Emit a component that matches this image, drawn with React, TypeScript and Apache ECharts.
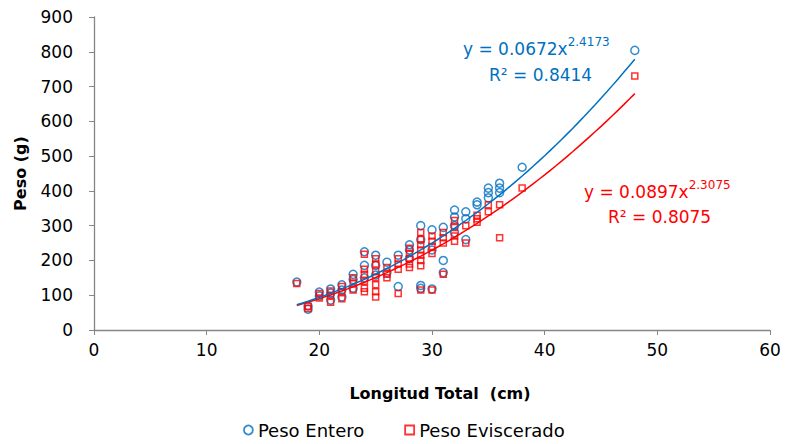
import React, { useEffect, useRef } from "react";
import * as echarts from "echarts";

const xTicks = [0, 10, 20, 30, 40, 50, 60];
const yTicks = [0, 100, 200, 300, 400, 500, 600, 700, 800, 900];

// Peso Entero (longitud cm, peso g)
const pesoEntero: [number, number][] = [
  [18, 138], [19, 69], [19, 60], [20, 109], [20, 98], [21, 118], [21, 106], [21, 86],
  [22, 130], [22, 115], [22, 95], [23, 160], [23, 145], [23, 120],
  [24, 225], [24, 186], [24, 150], [25, 215], [25, 186], [25, 158],
  [26, 195], [26, 165], [27, 215], [27, 125], [28, 245], [28, 230], [28, 205],
  [29, 300], [29, 260], [29, 128], [29, 120], [30, 288], [30, 230], [30, 118],
  [31, 295], [31, 200], [31, 165], [32, 345], [32, 325], [32, 300], [32, 280],
  [33, 340], [33, 320], [33, 260], [34, 368], [34, 360], [35, 408], [35, 395], [35, 380],
  [36, 422], [36, 408], [36, 395], [38, 468], [48, 804],
];

// Peso Eviscerado
const pesoEviscerado: [number, number][] = [
  [18, 134], [19, 62], [19, 68], [20, 105], [20, 92], [21, 112], [21, 100], [21, 80],
  [22, 125], [22, 110], [22, 90], [23, 150], [23, 135], [23, 115],
  [24, 218], [24, 175], [24, 160], [24, 140], [24, 120], [24, 110],
  [25, 205], [25, 190], [25, 170], [25, 150], [25, 130], [25, 110], [25, 95],
  [26, 180], [26, 160], [26, 150], [27, 205], [27, 190], [27, 175], [27, 105],
  [28, 235], [28, 220], [28, 205], [28, 190], [28, 180],
  [29, 280], [29, 260], [29, 245], [29, 230], [29, 215], [29, 200], [29, 185], [29, 115],
  [30, 270], [30, 255], [30, 240], [30, 220], [30, 115],
  [31, 280], [31, 265], [31, 250], [31, 160], [32, 315], [32, 295], [32, 270], [32, 255],
  [33, 300], [33, 250], [34, 330], [34, 320], [34, 310], [35, 360], [35, 340],
  [36, 360], [36, 265], [38, 408], [48, 730],
];

// Trend line coefficients shown on the chart (y = a x^b)
const trendEntero = { a: 0.0672, b: 2.4173, from: 18, to: 48 };
const trendEviscerado = { a: 0.0897, b: 2.3075, from: 18, to: 48 };

function trendPoints(t: { a: number; b: number; from: number; to: number }) {
  const pts: [number, number][] = [];
  for (let x = t.from; x <= t.to + 1e-9; x += 0.5) pts.push([x, t.a * Math.pow(x, t.b)]);
  return pts;
}

const BLUE = "#0070C0";
const RED = "#FF0000";
const FONT = "DejaVu Sans";
const FS = 17;

export default function App() {
  const ref = useRef<HTMLDivElement>(null);
  useEffect(() => {
    if (!ref.current) return;
    const chart = echarts.init(ref.current, undefined, { renderer: "svg" });
    chart.setOption({
      animation: false,
      backgroundColor: "#fff",
      textStyle: { fontFamily: FONT },
      grid: { left: 94, right: 15, top: 17, bottom: 114 },
      xAxis: {
        type: "value",
        min: xTicks[0],
        max: xTicks[xTicks.length - 1],
        interval: 10,
        name: "Longitud Total  (cm)",
        nameLocation: "middle",
        nameGap: 55,
        nameTextStyle: { fontSize: 16, fontWeight: "bold", color: "#000", fontFamily: FONT, padding: [0, 0, 0, 16] },
        axisLine: { lineStyle: { color: "#868686", width: 1.3 } },
        axisTick: { show: true, length: 5, lineStyle: { color: "#868686" } },
        axisLabel: { fontSize: FS, color: "#000", margin: 11, fontFamily: FONT },
        splitLine: { show: false },
      },
      yAxis: {
        type: "value",
        min: yTicks[0],
        max: yTicks[yTicks.length - 1],
        interval: 100,
        name: "Peso (g)",
        nameLocation: "middle",
        nameGap: 66,
        nameTextStyle: { fontSize: 16, fontWeight: "bold", color: "#000", fontFamily: FONT },
        axisLine: { show: true, lineStyle: { color: "#868686", width: 1.3 } },
        axisTick: { show: true, length: 5, lineStyle: { color: "#868686" } },
        axisLabel: { fontSize: FS, color: "#000", margin: 21, fontFamily: FONT },
        splitLine: { show: false },
      },
      legend: {
        bottom: 0,
        left: 238,
        itemGap: 40,
        itemWidth: 9,
        itemHeight: 9,
        textStyle: { fontSize: 18, color: "#000", fontFamily: FONT },
        data: [
          { name: "Peso Entero", icon: "circle", itemStyle: { color: "#fff", borderColor: BLUE, borderWidth: 1.8 } },
          { name: "Peso Eviscerado", icon: "rect", itemStyle: { color: "#fff", borderColor: RED, borderWidth: 1.8 } },
        ],
      },
      series: [
        {
          name: "Peso Entero",
          type: "scatter",
          data: pesoEntero,
          symbol: "circle",
          symbolSize: 8,
          itemStyle: { color: "rgba(255,255,255,0)", borderColor: BLUE, borderWidth: 1.5 },
          z: 2,
        },
        {
          name: "Peso Eviscerado",
          type: "scatter",
          data: pesoEviscerado,
          symbol: "rect",
          symbolSize: 6,
          itemStyle: { color: "rgba(255,255,255,0)", borderColor: RED, borderWidth: 1.5 },
          z: 3,
        },
        {
          name: "Tendencia Eviscerado",
          type: "line",
          data: trendPoints(trendEviscerado),
          showSymbol: false,
          symbol: "none",
          lineStyle: { color: RED, width: 1.5 },
          z: 4,
          silent: true,
        },
        {
          name: "Tendencia Entero",
          type: "line",
          data: trendPoints(trendEntero),
          showSymbol: false,
          symbol: "none",
          lineStyle: { color: BLUE, width: 1.5 },
          z: 5,
          silent: true,
        },
      ],
      graphic: [
        {
          type: "text",
          left: 463,
          top: 36,
          style: {
            text: "{b|y = 0.0672x}{s|2.4173}",
            rich: {
              b: { fontSize: FS, fill: BLUE, fontFamily: FONT, verticalAlign: "bottom" },
              s: { fontSize: 12, fill: BLUE, fontFamily: FONT, verticalAlign: "top", padding: [0, 0, 9, 0] },
            },
          },
        },
        {
          type: "text",
          left: 489,
          top: 66,
          style: {
            text: "R² = 0.8414",
            fontSize: FS,
            fill: BLUE,
            fontFamily: FONT,
          },
        },
        {
          type: "text",
          left: 584,
          top: 179,
          style: {
            text: "{b|y = 0.0897x}{s|2.3075}",
            rich: {
              b: { fontSize: FS, fill: RED, fontFamily: FONT, verticalAlign: "bottom" },
              s: { fontSize: 12, fill: RED, fontFamily: FONT, verticalAlign: "top", padding: [0, 0, 9, 0] },
            },
          },
        },
        {
          type: "text",
          left: 608,
          top: 208,
          style: {
            text: "R² = 0.8075",
            fontSize: FS,
            fill: RED,
            fontFamily: FONT,
          },
        },
      ],
    });
    return () => chart.dispose();
  }, []);
  return <div ref={ref} style={{ width: 785, height: 444, position: "absolute", left: 0, top: 0 }} />;
}
